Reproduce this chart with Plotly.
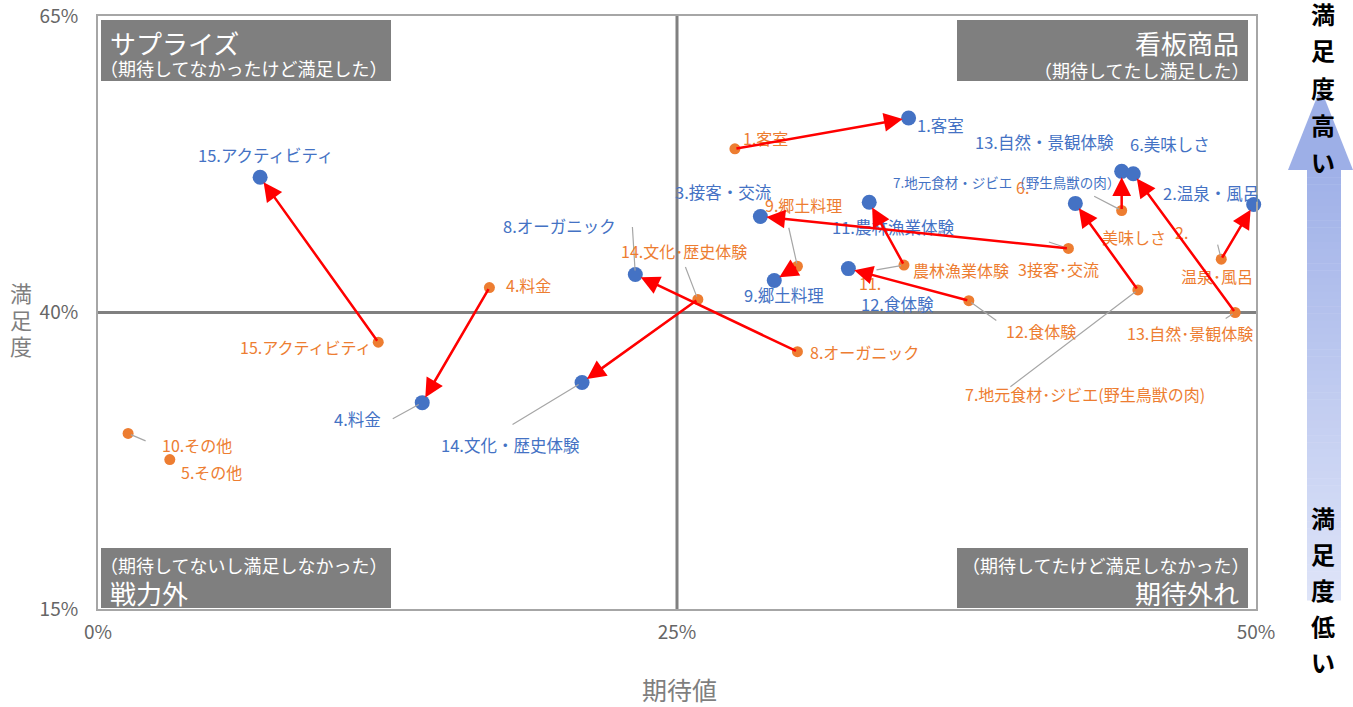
import plotly.graph_objects as go

# ---------------- data ----------------
before_labels = ["1.客室", "2.温泉･風呂", "3接客･交流", "4.料金", "5.その他", "6.美味しさ",
                 "7.地元食材･ジビエ(野生鳥獣の肉)", "8.オーガニック", "9.郷土料理", "10.その他",
                 "11.農林漁業体験", "12.食体験", "13.自然･景観体験", "14.文化･歴史体験", "15.アクティビティ"]
before_expect = [27.5, 48.5, 41.9, 16.9, 3.1, 44.2, 44.9, 30.2, 30.2, 1.3, 34.8, 37.6, 49.1, 25.9, 12.1]
before_satisf = [53.8, 44.5, 45.4, 42.1, 27.6, 48.6, 41.9, 36.7, 43.9, 29.8, 44.0, 41.0, 40.0, 41.1, 37.5]

after_ids = [1, 2, 3, 4, 6, 7, 8, 9, 11, 12, 13, 14, 15]
after_labels = ["1.客室", "2.温泉・風呂", "3.接客・交流", "4.料金", "6.美味しさ",
                "7.地元食材・ジビエ（野生鳥獣の肉）", "8.オーガニック", "9.郷土料理",
                "11.農林漁業体験", "12.食体験", "13.自然・景観体験", "14.文化・歴史体験", "15.アクティビティ"]
after_expect = [35.0, 49.9, 28.6, 14.0, 44.2, 42.2, 23.2, 29.2, 33.3, 32.4, 44.7, 20.9, 7.0]
after_satisf = [56.4, 49.1, 48.1, 32.4, 51.9, 49.2, 43.2, 42.7, 49.3, 43.7, 51.7, 34.1, 51.4]

x_ticks = [0, 25, 50]
y_ticks = [15, 40, 65]
x_title = "期待値"
y_title = "満足度"
quadrants = [("サプライズ", "（期待してなかったけど満足した）"),
             ("看板商品", "（期待してたし満足した）"),
             ("戦力外", "（期待してないし満足しなかった）"),
             ("期待外れ", "（期待してたけど満足しなかった）")]
side_top = "満足度高い"
side_bottom = "満足度低い"

# ---------------- style ----------------
FONT = "Noto Sans CJK JP"
BLUE = "#4472C4"
ORANGE = "#ED7D31"
GRAY_TXT = "#7f7f7f"
LEADER = "#a6a6a6"

W, H = 1353, 707
L, R, T, B = 98, 97, 16, 98
PW, PH = W - L - R, H - T - B


def px(x):
    return (x - L) / PW


def py(y):
    return (H - B - y) / PH


# label layouts: pixel offsets (dx right, dy down) of text centres; optional split; optional leader tail
before_layout = {
    0: dict(parts=[(0, 31, -11)]),
    1: dict(parts=[("a", -40, -27), ("b", -4, 17)], leader=(-4, -16)),
    2: dict(parts=[(0, -10, 21)], leader=(-21, -7)),
    3: dict(parts=[(0, 39, -3)]),
    4: dict(parts=[(0, 42, 12)]),
    5: dict(parts=[("a", -99, -24), ("b", 12, 26)], leader=(-29, -15)),
    6: dict(parts=[(0, -53, 104)], leader=(-129, 98)),
    7: dict(parts=[(0, 67, 0)]),
    8: dict(parts=[(0, 6, -61)], leader=(-9, -40)),
    9: dict(parts=[(0, 69, 12)], leader=(19, 8)),
    10: dict(parts=[("a", -34, 18), ("b", 57, 5)], leader=(-29, 5)),
    11: dict(parts=[(0, 72, 30)], leader=(29, 21)),
    12: dict(parts=[(0, -45, 20)], leader=(-11, 7)),
    13: dict(parts=[(0, -14, -48)], leader=(-13, -34)),
    14: dict(parts=[(0, -72, 5)]),
}
after_layout = [
    dict(d=(32, 7)), dict(d=(-43, -12)), dict(d=(-37, -24)),
    dict(d=(-65, 16), leader=(-31, 17)), dict(d=(48, -27)),
    dict(d=(-69, -21), size=13.5), dict(d=(-76, -49), leader=(-3, -49)),
    dict(d=(10, 15)), dict(d=(24, 25)), dict(d=(49, 35)),
    dict(d=(-89, -32)), dict(d=(-72, 63), leader=(-71, 43)), dict(d=(6, -22)),
]

fig = go.Figure()

fig.add_trace(go.Scatter(x=before_expect, y=before_satisf, mode="markers",
                         marker=dict(color=ORANGE, size=11), hoverinfo="skip",
                         showlegend=False, cliponaxis=False))
fig.add_trace(go.Scatter(x=after_expect, y=after_satisf, mode="markers",
                         marker=dict(color=BLUE, size=15), hoverinfo="skip",
                         showlegend=False, cliponaxis=False))

ann = []
# leader lines
for i, lay in before_layout.items():
    if "leader" in lay:
        ax, ay = lay["leader"]
        ann.append(dict(x=before_expect[i], y=before_satisf[i], xref="x", yref="y", text="",
                        showarrow=True, arrowhead=0, arrowwidth=1.2, arrowcolor=LEADER,
                        ax=ax, ay=ay, standoff=3))
for j, lay in enumerate(after_layout):
    if "leader" in lay:
        ax, ay = lay["leader"]
        ann.append(dict(x=after_expect[j], y=after_satisf[j], xref="x", yref="y", text="",
                        showarrow=True, arrowhead=0, arrowwidth=1.2, arrowcolor=LEADER,
                        ax=ax, ay=ay, standoff=4))

# data labels
for i, lay in before_layout.items():
    lab = before_labels[i]
    for part, dx, dy in lay["parts"]:
        if part == "a":
            txt = lab.split(".", 1)[0] + "."
        elif part == "b":
            txt = lab.split(".", 1)[1]
        else:
            txt = lab
        ann.append(dict(x=before_expect[i], y=before_satisf[i], xref="x", yref="y", text=txt,
                        showarrow=False, xshift=dx, yshift=-dy, xanchor="center", yanchor="middle",
                        font=dict(family=FONT, size=16, color=ORANGE)))
for j, lay in enumerate(after_layout):
    dx, dy = lay["d"]
    ann.append(dict(x=after_expect[j], y=after_satisf[j], xref="x", yref="y", text=after_labels[j],
                    showarrow=False, xshift=dx, yshift=-dy, xanchor="center", yanchor="middle",
                    font=dict(family=FONT, size=lay.get("size", 16.5), color=BLUE)))

# red change arrows (before -> after)
for j, pid in enumerate(after_ids):
    i = pid - 1
    ann.append(dict(x=after_expect[j], y=after_satisf[j], xref="x", yref="y",
                    ax=before_expect[i], ay=before_satisf[i], axref="x", ayref="y",
                    text="", showarrow=True, arrowhead=2, arrowsize=1.5, arrowwidth=2.5,
                    arrowcolor="#FF0000", standoff=6, startstandoff=0))

# quadrant boxes
shapes = []
boxes = [(101, 391, 20, 81), (957, 1248, 20, 81), (101, 391, 548, 608), (957, 1248, 548, 608)]
for (x0, x1, y0, y1) in boxes:
    shapes.append(dict(type="rect", xref="paper", yref="paper", x0=px(x0), x1=px(x1),
                       y0=py(y1), y1=py(y0), fillcolor="#7f7f7f", line=dict(width=0), layer="above"))

# (text, x px, y px, anchor, size, xshift to compensate full-width paren bearing)
qt = [
    (quadrants[0][0], 108, 42, "left", 26, 0), (quadrants[0][1], 108, 68, "left", 18, -10),
    (quadrants[1][0], 1241, 42, "right", 26, 0), (quadrants[1][1], 1241, 70, "right", 18, 10),
    (quadrants[2][1], 108, 565, "left", 18, -10), (quadrants[2][0], 108, 592, "left", 26, 0),
    (quadrants[3][1], 1241, 565, "right", 18, 10), (quadrants[3][0], 1241, 592, "right", 26, 0),
]
for txt, x, y, anchor, size, xs in qt:
    ann.append(dict(x=px(x), y=py(y), xref="paper", yref="paper", text=txt, showarrow=False,
                    xanchor=anchor, yanchor="middle", xshift=xs,
                    font=dict(family=FONT, size=size, color="white")))

# centre cross lines
shapes.append(dict(type="line", xref="x", yref="paper", x0=25, x1=25, y0=0, y1=1,
                   line=dict(color="#808080", width=3), layer="below"))
shapes.append(dict(type="line", xref="paper", yref="y", x0=0, x1=1, y0=40, y1=40,
                   line=dict(color="#808080", width=3), layer="below"))

# right side gradient arrow
top_c = (160, 177, 232)
bot_c = (222, 228, 248)
y_start, y_end = 170, 600
nb = 60
for k in range(nb):
    ya = y_start + (y_end - y_start) * k / nb
    yb = y_start + (y_end - y_start) * (k + 1) / nb + 0.5
    t = k / (nb - 1)
    c = tuple(round(top_c[m] + (bot_c[m] - top_c[m]) * t) for m in range(3))
    shapes.append(dict(type="rect", xref="paper", yref="paper", x0=px(1307), x1=px(1341),
                       y0=py(yb), y1=py(ya), fillcolor="rgb(%d,%d,%d)" % c, line=dict(width=0)))
shapes.append(dict(type="path", xref="paper", yref="paper",
                   path="M %f %f L %f %f L %f %f Z" % (px(1288), py(170), px(1320.5), py(88),
                                                      px(1353), py(170)),
                   fillcolor="rgb(157,175,231)", line=dict(width=0)))

for k, ch in enumerate(side_top):
    ann.append(dict(x=px(1323), y=py(13 + 37 * k), xref="paper", yref="paper", text="<b>%s</b>" % ch,
                    showarrow=False, xanchor="center", yanchor="middle",
                    font=dict(family=FONT, size=24, color="black")))
for k, ch in enumerate(side_bottom):
    ann.append(dict(x=px(1323), y=py(517 + 36 * k), xref="paper", yref="paper", text="<b>%s</b>" % ch,
                    showarrow=False, xanchor="center", yanchor="middle",
                    font=dict(family=FONT, size=24, color="black")))

# axis titles
ann.append(dict(x=px(679), y=py(689), xref="paper", yref="paper", text=x_title, showarrow=False,
                xanchor="center", yanchor="middle",
                font=dict(family=FONT, size=25, color=GRAY_TXT)))
for k, ch in enumerate(y_title):
    ann.append(dict(x=px(21), y=py(292 + 26.5 * k), xref="paper", yref="paper", text=ch,
                    showarrow=False, xanchor="center", yanchor="middle",
                    font=dict(family=FONT, size=22, color=GRAY_TXT)))

fig.update_layout(
    width=W, height=H,
    margin=dict(l=L, r=R, t=T, b=B, autoexpand=False),
    plot_bgcolor="white", paper_bgcolor="white",
    font=dict(family=FONT, color="#595959"),
    shapes=shapes, annotations=ann, showlegend=False,
    xaxis=dict(range=[0, 50], tickvals=x_ticks, ticktext=["%d%%" % v for v in x_ticks],
               showgrid=False, zeroline=False, showline=True, mirror=True, automargin=False,
               linecolor="#a6a6a6", linewidth=2, ticks="", ticklabelstandoff=5,
               tickfont=dict(family=FONT, size=19, color="#666666")),
    yaxis=dict(range=[15, 65], tickvals=y_ticks, ticktext=["%d%%" % v for v in y_ticks],
               showgrid=False, zeroline=False, showline=True, mirror=True, automargin=False,
               linecolor="#a6a6a6", linewidth=2, ticks="", ticklabelstandoff=14,
               tickfont=dict(family=FONT, size=19, color="#666666")),
)

fig.write_html("out.html", config={"displayModeBar": False},
               post_script="document.body.style.margin='0px';document.body.style.overflow='hidden';")
